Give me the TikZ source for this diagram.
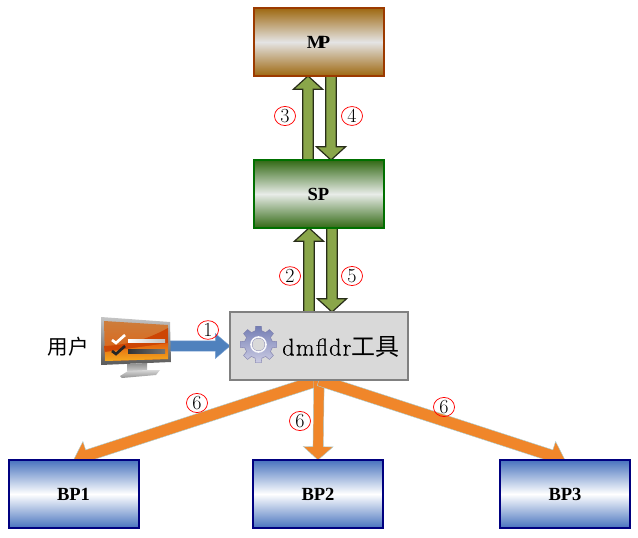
\documentclass[tikz,border=0pt]{standalone}
\usepackage{fontspec}
\newfontfamily\cjk{Noto Sans CJK SC}
\newfontfamily\boxfont{Liberation Serif}
\newfontfamily\toolfont[FakeBold=0.25,LetterSpace=5]{Latin Modern Roman}
\usetikzlibrary{calc,shapes.geometric}
\pgfdeclarelayer{bg}
\pgfsetlayers{bg,main}
\definecolor{olivef}{HTML}{8AA64A}
\definecolor{orangef}{HTML}{F0862A}
\definecolor{bluef}{HTML}{4F81BD}
\definecolor{mpedge}{RGB}{156,58,0}
\definecolor{mpdark}{RGB}{158,104,16}
\definecolor{mplight}{RGB}{228,228,228}
\definecolor{spedge}{RGB}{0,112,0}
\definecolor{spdark}{RGB}{50,105,20}
\definecolor{splight}{RGB}{232,236,232}
\definecolor{bpedge}{RGB}{0,0,128}
\definecolor{bpdark}{RGB}{72,115,190}
\definecolor{tooledge}{RGB}{128,128,128}
\definecolor{toolfill}{RGB}{217,217,217}
\definecolor{greenedge}{RGB}{40,45,25}
\definecolor{orangeedge}{RGB}{168,208,216}
\definecolor{blueedge}{RGB}{120,160,210}
\definecolor{scrtop}{RGB}{205,125,60}
\definecolor{scrmid}{RGB}{225,95,15}
\definecolor{scrdark}{RGB}{205,70,5}
\definecolor{scrglow}{RGB}{245,170,30}
\definecolor{geartop}{RGB}{115,125,180}
\definecolor{gearbot}{RGB}{205,205,228}
\definecolor{gearedge}{RGB}{125,125,170}
\tikzset{
  box/.style={draw,rectangle,outer sep=0pt,inner sep=0pt,minimum width=97.5pt,minimum height=51pt,line width=1.5pt,font=\boxfont\bfseries\fontsize{13.9}{15}\selectfont},
  mpbox/.style={box,draw=mpedge,top color=mpdark,bottom color=mpdark,middle color=mplight},
  spbox/.style={box,draw=spedge,top color=spdark,bottom color=spdark,middle color=splight},
  bpbox/.style={box,draw=bpedge,top color=bpdark,bottom color=bpdark,middle color=white},
  toolbox/.style={draw=tooledge,fill=toolfill,rectangle,outer sep=0pt,inner sep=0pt,minimum width=133.5pt,minimum height=51pt,line width=1.8pt},
  numb/.style={draw=red,ellipse,line width=.55pt,inner sep=0pt,minimum width=15.8pt,minimum height=13.8pt,font=\fontsize{15}{15}\selectfont},
  greenarrow/.style={draw=greenedge,fill=olivef,line width=.9pt,line join=miter},
  orangearrow/.style={draw=orangeedge,fill=orangef,line width=.3pt},
  bluearrow/.style={draw=blueedge,fill=bluef,line width=.3pt},
}
% #1 style, #2 from, #3 to, #4 shaft half width, #5 head half width, #6 head length
\newcommand{\blockarrow}[6]{%
  \coordinate (ba) at (#2);
  \coordinate (bb) at (#3);
  \coordinate (bc) at ($(bb)!#6!(ba)$);
  \draw[#1] ($(ba)!#4!90:(bb)$) -- ($(bc)!#4!-90:(ba)$) -- ($(bc)!#5!-90:(ba)$) -- (bb)
    -- ($(bc)!#5!90:(ba)$) -- ($(bc)!#4!90:(ba)$) -- ($(ba)!#4!-90:(bb)$) -- cycle;
}
\begin{document}
\begin{tikzpicture}[x=.75pt,y=-.75pt]
\useasboundingbox (0,0) rectangle (638,538);
\node[mpbox] (mp) at (318.5,42) {M\kern-.3em P};
\node[spbox] (sp) at (318.5,194) {SP};
\node[toolbox] (tool) at (319,346) {};
\node[bpbox] (bp1) at (73.5,494) {BP1};
\node[bpbox] (bp2) at (318,494) {BP2};
\node[bpbox] (bp3) at (565,494) {BP3};
\node[anchor=west,inner sep=0pt,font=\toolfont\fontsize{18.2}{20}\selectfont] (tooltext) at (282,347) {dmf{}ldr{\cjk\fontsize{18}{20}\selectfont 工具}};
\node[inner sep=0pt,font=\cjk\fontsize{15.4}{18}\selectfont] (user) at (68,347) {用户};

\coordinate (xa) at (308,0);
\coordinate (xb) at (331,0);
\coordinate (xc) at (309,0);
\coordinate (xd) at (332,0);
\coordinate (mon) at (168,346);
\begin{pgfonlayer}{bg}
\blockarrow{greenarrow}{sp.north -| xa}{mp.south -| xa}{4pt}{11pt}{10pt}
\blockarrow{greenarrow}{mp.south -| xb}{sp.north -| xb}{4pt}{11pt}{10pt}
\blockarrow{greenarrow}{tool.north -| xc}{sp.south -| xc}{4pt}{11pt}{10pt}
\blockarrow{greenarrow}{sp.south -| xd}{tool.north -| xd}{4pt}{11pt}{10pt}
\blockarrow{orangearrow}{tool.south}{bp1.north}{4.4pt}{11pt}{11pt}
\blockarrow{orangearrow}{tool.south}{bp2.north}{3.9pt}{11.2pt}{10pt}
\blockarrow{orangearrow}{tool.south}{bp3.north}{4.4pt}{11pt}{11pt}
\blockarrow{bluearrow}{mon}{tool.west}{3.9pt}{9.4pt}{11pt}
\end{pgfonlayer}

% monitor
\shade[top color=gray!45,bottom color=black!65] (101,317) -- (170,322) -- (171,362) -- (101,365) -- cycle;
\shade[top color=scrtop,bottom color=scrmid] (104,321) -- (168,325) -- (168,359) -- (105,361) -- cycle;
\fill[scrdark] (104,346) .. controls (130,345) and (150,338) .. (168,328) -- (168,345) -- (105,355) -- cycle;
\shade[top color=scrmid,bottom color=scrglow] (105,352) -- (168,343) -- (168,359) -- (105,361) -- cycle;
\shade[top color=gray!90,bottom color=gray!40] (127,364) -- (147,363) -- (147,371) -- (127,371) -- cycle;
\shade[top color=gray!30,bottom color=gray!85] (120,376) -- (128,371) -- (147,370) -- (160,370) -- (156,375) -- (122,378) -- cycle;
\draw[white,line width=2pt] (112,340) -- (116,343) -- (125,335);
\draw[black!85,line width=2pt] (112,351) -- (116,354) -- (125,346);
\shade[left color=white,right color=gray!50] (128,339) rectangle (165,342.5);
\shade[left color=black!80,right color=black!55] (128,349.5) rectangle (165,353);

% gear
\begin{scope}[shift={(258.5,344.5)}]
\shade[even odd rule,top color=geartop,bottom color=gearbot,draw=gearedge,line width=.3pt]
  (-14:14)
  \foreach \a in {0,45,...,315} {
    -- (\a-14:14) -- (\a-9:18.5) -- (\a+9:18.5) -- (\a+14:14) -- (\a+31:14)
  } -- cycle
  (6.5,0) arc[start angle=0,end angle=360,radius=6.5];
\draw[white!85!gearbot,line width=1.2pt] (0,0) circle[radius=7.5];
\end{scope}

\node[numb] (n1) at (208,330) {1};
\node[numb] (n2) at (290,276) {2};
\node[numb] (n3) at (285,116) {3};
\node[numb] (n4) at (352,116) {4};
\node[numb] (n5) at (352,276) {5};
\node[numb] (n6a) at (197,403) {6};
\node[numb] (n6b) at (300,421) {6};
\node[numb] (n6c) at (444,407) {6};
\end{tikzpicture}
\end{document}
